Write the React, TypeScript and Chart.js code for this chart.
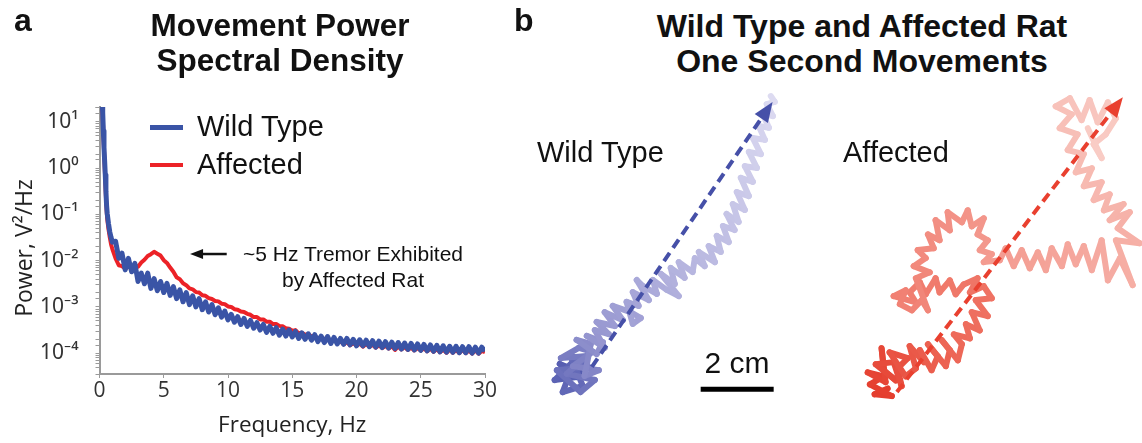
import React, { useEffect, useRef } from 'react';
import { Chart, registerables } from 'chart.js';

Chart.register(...registerables);

// ---------------- Panel a: movement power spectral density ----------------
// Frequency grid (Hz)
const psdFreqHz = [
  0.2, 0.25, 0.3, 0.35, 0.4, 0.45, 0.5, 0.55, 0.6, 0.7, 0.8, 0.9, 1.0,
  1.25, 1.5, 1.75, 2.0, 2.25, 2.5, 2.75, 3.0, 3.25, 3.5, 3.75, 4.0,
  4.25, 4.5, 4.75, 5.0, 5.25, 5.5, 5.75, 6.0, 6.25, 6.5, 6.75, 7.0,
  7.25, 7.5, 7.75, 8.0, 8.25, 8.5, 8.75, 9.0, 9.25, 9.5, 9.75, 10.0,
  10.25, 10.5, 10.75, 11.0, 11.25, 11.5, 11.75, 12.0, 12.25, 12.5, 12.75, 13.0,
  13.25, 13.5, 13.75, 14.0, 14.25, 14.5, 14.75, 15.0, 15.25, 15.5, 15.75, 16.0,
  16.25, 16.5, 16.75, 17.0, 17.25, 17.5, 17.75, 18.0, 18.25, 18.5, 18.75, 19.0,
  19.25, 19.5, 19.75, 20.0, 20.25, 20.5, 20.75, 21.0, 21.25, 21.5, 21.75, 22.0,
  22.25, 22.5, 22.75, 23.0, 23.25, 23.5, 23.75, 24.0, 24.25, 24.5, 24.75, 25.0,
  25.25, 25.5, 25.75, 26.0, 26.25, 26.5, 26.75, 27.0, 27.25, 27.5, 27.75, 28.0,
  28.25, 28.5, 28.75, 29.0, 29.25, 29.5, 29.75, 30.0,
];

// log10 of power (V^2/Hz)
const wildTypeLog10Power = [
  1.45, 1.2, 0.8, 0.45, 0.15, -0.15, -0.5, -0.8, -0.98, -1.2, -1.38, -1.5, -1.6,
  -1.58, -1.95, -1.84, -2.2, -1.95, -2.24, -2.06, -2.45, -2.27, -2.5, -2.27, -2.6,
  -2.39, -2.65, -2.45, -2.69, -2.49, -2.75, -2.56, -2.82, -2.63, -2.89, -2.69, -2.95,
  -2.76, -3.0, -2.82, -3.06, -2.89, -3.11, -2.95, -3.17, -3.02, -3.22, -3.09, -3.28,
  -3.16, -3.33, -3.21, -3.38, -3.25, -3.42, -3.29, -3.46, -3.34, -3.5, -3.38, -3.55,
  -3.42, -3.57, -3.45, -3.61, -3.48, -3.63, -3.5, -3.65, -3.53, -3.68, -3.56, -3.7,
  -3.58, -3.72, -3.6, -3.75, -3.63, -3.77, -3.64, -3.79, -3.66, -3.8, -3.68, -3.81,
  -3.68, -3.82, -3.7, -3.84, -3.71, -3.84, -3.72, -3.86, -3.73, -3.87, -3.74, -3.88,
  -3.75, -3.89, -3.76, -3.9, -3.77, -3.91, -3.78, -3.92, -3.79, -3.93, -3.8, -3.94,
  -3.81, -3.95, -3.82, -3.96, -3.83, -3.97, -3.84, -3.98, -3.85, -3.98, -3.85, -3.99,
  -3.86, -3.99, -3.86, -4.0, -3.87, -4.0, -3.87, -3.96,
];

const affectedLog10Power = [
  1.45, 1.15, 0.72, 0.38, 0.05, -0.28, -0.62, -0.9, -1.1, -1.32, -1.5, -1.65, -1.75,
  -1.95, -2.1, -2.12, -2.17, -2.13, -2.16, -2.1, -2.13, -2.04, -1.98, -1.9, -1.86,
  -1.81, -1.85, -1.89, -1.99, -2.05, -2.15, -2.24, -2.36, -2.4, -2.49, -2.53, -2.6,
  -2.62, -2.68, -2.69, -2.75, -2.76, -2.81, -2.83, -2.87, -2.88, -2.93, -2.94, -2.99,
  -3.0, -3.05, -3.06, -3.1, -3.11, -3.15, -3.17, -3.22, -3.22, -3.27, -3.27, -3.32,
  -3.32, -3.37, -3.37, -3.41, -3.42, -3.46, -3.47, -3.52, -3.5, -3.57, -3.56, -3.6,
  -3.59, -3.64, -3.63, -3.68, -3.65, -3.7, -3.69, -3.74, -3.71, -3.77, -3.74, -3.81,
  -3.76, -3.83, -3.78, -3.84, -3.79, -3.86, -3.8, -3.86, -3.82, -3.88, -3.83, -3.89,
  -3.84, -3.9, -3.85, -3.93, -3.86, -3.92, -3.87, -3.93, -3.88, -3.94, -3.89, -3.94,
  -3.9, -3.96, -3.9, -3.97, -3.91, -3.98, -3.92, -3.99, -3.92, -3.99, -3.93, -4.0,
  -3.93, -4.0, -3.94, -4.01, -3.94, -4.01, -3.95, -3.98,
];

const psdXTicks = [0, 5, 10, 15, 20, 25, 30];
const psdYRange = [3.55e-5, 20.9];
// annotation arrow (Hz, power)
const tremorArrow = { fromHz: 9.9, toHz: 7.05, power: 0.0139 };

// ---------------- Panel b: one-second trajectories (cm, from start point) ----------------
const wildTypePathX = [
  0.14, -0.41, 0.05, -0.55, 0.0, -0.33, 0.22, -0.14, 0.38, -0.49, 0.16, 0.55, -0.22, 0.33, -0.38, 0.11,
  0.49, -0.05, 0.66, 0.27, 0.44, 0.05, 0.6, 0.77, 0.33, 0.82, 0.55,
  0.93, 0.6, 1.1, 0.82, 1.32, 1.04, 1.53, 1.81, 1.59, 1.42, 1.75, 1.59, 2.03, 1.7, 1.86, 2.25, 2.14,
  2.52, 2.85, 2.36, 2.74, 2.63, 3.01, 2.85, 3.23, 3.29, 3.56, 3.4, 3.84, 3.67, 4.0, 3.89, 4.22, 4.06,
  4.38, 4.16, 4.49, 4.33, 4.66, 4.44, 4.77, 4.55, 4.88, 4.66, 4.99, 4.77, 5.1, 4.88, 5.21, 5.04,
  5.32, 5.15, 5.43, 5.26, 5.48, 5.37,
];
const wildTypePathY = [
  0.0, 0.22, -0.14, -0.22, 0.33, -0.55, -0.38, 0.49, 0.14, 0.05, -0.55, -0.22, -0.05, 0.44, 0.38, 0.66,
  0.55, 0.16, 0.05, -0.11, 0.77, 0.88, 0.49, 0.82, 0.99, 0.66, 1.15,
  1.04, 1.37, 1.26, 1.64, 1.42, 1.81, 1.64, 1.48, 1.32, 1.92, 1.81, 2.19, 1.97, 2.52, 2.36, 2.14, 2.52,
  2.25, 2.08, 2.69, 2.41, 2.85, 2.58, 3.01, 2.74, 3.12, 2.9, 3.29, 3.01, 3.45, 3.29, 3.73, 3.56, 4.0,
  3.89, 4.33, 4.11, 4.6, 4.44, 4.93, 4.82, 5.32, 5.21, 5.64, 5.59, 6.03, 5.97, 6.41, 6.36, 6.74,
  6.69, 7.07, 7.01, 7.34, 7.4, 7.56,
];

const affectedPathX = [
  0.22, -0.14, 0.33, -0.27, 0.11, -0.33, 0.16, 0.05, 0.11, 0.44, -0.11, 0.38, 0.6, 0.49, 0.77, 0.27,
  0.71, 0.99, 0.82, 1.21, 1.1, 1.42, 1.59, 1.32, 1.81, 1.92, 1.7, 2.14, 2.25,
  2.03, 2.47, 2.36, 2.74, 2.52, 2.96, 2.63, 3.07, 2.85, 2.47, 2.68, 2.3,
  2.08, 1.92, 1.64, 1.53, 1.26, 1.1, 0.82, 0.99, 0.38, 0.71, 0.55, 0.88, 1.15, 1.32,
  0.99, 1.37, 0.93, 1.26, 1.04, 1.48,
  1.32, 1.64, 1.53, 1.92, 1.86, 2.25, 2.41, 2.52, 2.85, 2.68, 2.96, 2.74,
  3.07, 2.85, 3.29, 3.45, 3.67,
  3.89, 4.11, 4.33, 4.55, 4.71, 4.99, 5.15, 5.37, 5.59,
  5.81, 6.08, 6.25, 6.58, 6.93, 6.47, 7.12, 6.52, 6.85, 6.3, 6.68, 6.14,
  6.3, 5.86, 6.08, 5.59, 5.81, 5.37, 5.59,
  5.15, 5.42, 4.93, 5.26, 4.82, 5.21, 5.53, 5.75, 5.97, 6.25, 6.47, 6.19, 5.86, 6.08, 5.7,
];
const affectedPathY = [
  0.05, -0.11, -0.16, 0.16, 0.38, 0.49, 0.22, 1.15, 0.55, 0.27, 0.71, 0.77, 0.11, 0.6, 0.88, 1.04,
  0.38, 0.6, 1.21, 0.77, 1.1, 0.55, 0.93, 1.26, 0.66, 1.1, 1.37, 0.82, 1.26,
  1.53, 1.42, 1.81, 1.64, 2.14, 2.03, 2.47, 2.52, 2.85, 2.68, 3.07, 2.9,
  2.63, 3.01, 2.68, 3.07, 2.63, 2.96, 2.68, 2.41, 2.58, 2.74, 2.36, 2.19, 2.47, 2.19,
  3.07, 3.23, 3.4, 3.62, 3.84, 3.89,
  4.27, 4.11, 4.66, 4.38, 4.88, 4.6, 4.93, 4.49, 4.71, 4.27, 4.11, 3.84,
  3.73, 3.51, 3.56, 3.89, 3.4,
  3.84, 3.34, 3.78, 3.29, 3.89, 3.4, 4.0, 3.45, 3.95,
  3.29, 4.11, 3.01, 3.62, 2.88, 4.11, 4.03, 4.44, 4.88, 4.66, 5.1, 4.93,
  5.37, 5.21, 5.7, 5.59, 6.08, 5.97, 6.47,
  6.58, 7.01, 7.18, 7.56, 7.78, 8.0, 7.4, 7.95, 7.34, 7.89, 7.45, 7.01, 6.74, 6.36, 7.18,
];

// straight-line (start -> end) displacement arrows, cm
const wildTypeArrow = { from: [0.47, 0.14], to: [5.42, 7.4] };
const affectedArrow = { from: [0.47, -0.05], to: [6.66, 8.03] };
// scale bar (cm)
const scaleBarLengthCm = 2;
const scaleBarStart = [3.45, -0.47];

// ---------------- styles ----------------
const BLUE = '#3a54a6';
const RED = '#ec2227';
const AXIS_GREY = '#9a9a9a';
const WT_STOPS: [number, number[]][] = [
  [0, [84, 92, 176]],
  [0.3, [150, 150, 208]],
  [1, [222, 220, 242]],
];
const AF_STOPS: [number, number[]][] = [
  [0, [228, 60, 44]],
  [0.25, [238, 108, 92]],
  [0.5, [242, 140, 128]],
  [1, [249, 205, 198]],
];
const CM_PX = 36.5;

function colorAt(stops: [number, number[]][], t: number) {
  for (let i = 1; i < stops.length; i++) {
    if (t <= stops[i][0]) {
      const [t0, c0] = stops[i - 1];
      const [t1, c1] = stops[i];
      const f = (t - t0) / (t1 - t0);
      const c = c0.map((v, k) => Math.round(v + (c1[k] - v) * f));
      return `rgb(${c[0]},${c[1]},${c[2]})`;
    }
  }
  const c = stops[stops.length - 1][1];
  return `rgb(${c[0]},${c[1]},${c[2]})`;
}

const SUP: Record<string, string> = {
  '-': '\u207B', '0': '\u2070', '1': '\u00B9', '2': '\u00B2', '3': '\u00B3',
  '4': '\u2074', '5': '\u2075', '6': '\u2076', '7': '\u2077', '8': '\u2078', '9': '\u2079',
};

const tremorArrowPlugin = {
  id: 'tremorArrow',
  afterDatasetsDraw(chart: any) {
    const { ctx, scales } = chart;
    const x0 = scales.x.getPixelForValue(tremorArrow.fromHz);
    const x1 = scales.x.getPixelForValue(tremorArrow.toHz);
    const y = scales.y.getPixelForValue(tremorArrow.power);
    ctx.save();
    ctx.strokeStyle = '#111';
    ctx.fillStyle = '#111';
    ctx.lineWidth = 2.5;
    ctx.beginPath();
    ctx.moveTo(x0, y);
    ctx.lineTo(x1 + 10, y);
    ctx.stroke();
    ctx.beginPath();
    ctx.moveTo(x1, y);
    ctx.lineTo(x1 + 13, y - 5);
    ctx.lineTo(x1 + 13, y + 5);
    ctx.closePath();
    ctx.fill();
    ctx.restore();
  },
};

const dashArrowPlugin = {
  id: 'dashArrow',
  afterDatasetsDraw(chart: any, _args: any, opts: any) {
    if (!opts || !opts.from) return;
    const { ctx, scales } = chart;
    const px = (p: number[]) => [scales.x.getPixelForValue(p[0]), scales.y.getPixelForValue(p[1])];
    const [ax, ay] = px(opts.from);
    const [bx, by] = px(opts.to);
    const len = Math.hypot(bx - ax, by - ay);
    const ux = (bx - ax) / len;
    const uy = (by - ay) / len;
    const head = 20;
    const half = 8;
    ctx.save();
    ctx.strokeStyle = opts.color;
    ctx.fillStyle = opts.color;
    ctx.lineWidth = 4;
    ctx.setLineDash([10, 6]);
    ctx.beginPath();
    ctx.moveTo(ax, ay);
    ctx.lineTo(bx - ux * (head - 3), by - uy * (head - 3));
    ctx.stroke();
    ctx.setLineDash([]);
    const cx = bx - ux * head;
    const cy = by - uy * head;
    ctx.beginPath();
    ctx.moveTo(bx, by);
    ctx.lineTo(cx - uy * half, cy + ux * half);
    ctx.lineTo(cx + uy * half, cy - ux * half);
    ctx.closePath();
    ctx.fill();
    ctx.restore();
  },
};

function makePsdChart(canvas: HTMLCanvasElement) {
  const mk = (logs: number[]) => psdFreqHz.map((f, i) => ({ x: f, y: Math.pow(10, logs[i]) }));
  const tickFont = { family: "'Open Sans', 'Noto Sans', sans-serif", size: 21 };
  return new Chart(canvas, {
    type: 'line',
    data: {
      datasets: [
        { label: 'Wild Type', data: mk(wildTypeLog10Power), borderColor: BLUE, borderWidth: 5, pointRadius: 0, tension: 0, borderJoinStyle: 'round' },
        { label: 'Affected', data: mk(affectedLog10Power), borderColor: RED, borderWidth: 4, pointRadius: 0, tension: 0, borderJoinStyle: 'round' },
      ] as any,
    },
    options: {
      responsive: false,
      maintainAspectRatio: false,
      animation: false,
      layout: { padding: { left: 0, top: 107, right: 35, bottom: 0 } },
      plugins: { legend: { display: false }, tooltip: { enabled: false } },
      scales: {
        x: {
          type: 'linear',
          min: psdXTicks[0],
          max: psdXTicks[psdXTicks.length - 1],
          afterFit: (s: any) => { s.height = 69; },
          afterBuildTicks: (s: any) => { s.ticks = psdXTicks.map((v) => ({ value: v })); },
          ticks: { font: tickFont, color: '#333', padding: 0, maxRotation: 0 },
          grid: { display: true, drawOnChartArea: false, tickLength: 4, color: AXIS_GREY },
          border: { color: AXIS_GREY, width: 2 },
          title: { display: true, text: 'Frequency, Hz', font: { family: "'Open Sans', sans-serif", size: 22.5 }, color: '#222', padding: 4 },
        },
        y: {
          type: 'logarithmic',
          min: psdYRange[0],
          max: psdYRange[1],
          afterFit: (s: any) => { s.width = 99.5; },
          ticks: {
            autoSkip: false,
            font: { family: "'Noto Sans', 'DejaVu Sans', sans-serif", size: 21 },
            color: '#333',
            padding: 17,
            callback: (v: any) => {
              const e = Math.log10(Number(v));
              const r = Math.round(e);
              if (Math.abs(e - r) > 1e-6) return '';
              return '10' + String(r).split('').map((c) => SUP[c]).join('');
            },
          },
          grid: { display: true, drawOnChartArea: false, tickLength: 4, color: AXIS_GREY },
          border: { color: AXIS_GREY, width: 2 },
          title: { display: false, text: 'Power, V\u00B2/Hz' },
        },
      },
    } as any,
    plugins: [tremorArrowPlugin],
  });
}

function makeTrajChart(
  canvas: HTMLCanvasElement,
  xs: number[],
  ys: number[],
  stops: [number, number[]][],
  arrow: { from: number[]; to: number[] },
  arrowColor: string,
  xRange: number[],
  yRange: number[],
  withScaleBar: boolean,
) {
  const n = xs.length;
  const datasets: any[] = [
    {
      data: xs.map((x, i) => ({ x, y: ys[i] })),
      borderWidth: 6,
      borderColor: colorAt(stops, 0),
      segment: { borderColor: (c: any) => colorAt(stops, c.p0DataIndex / (n - 1)) },
      borderJoinStyle: 'round',
      borderCapStyle: 'round',
      pointRadius: 0,
      tension: 0,
      clip: false,
    },
  ];
  if (withScaleBar) {
    datasets.push({
      data: [
        { x: scaleBarStart[0], y: scaleBarStart[1] },
        { x: scaleBarStart[0] + scaleBarLengthCm, y: scaleBarStart[1] },
      ],
      borderColor: '#000',
      borderWidth: 5,
      pointRadius: 0,
      clip: false,
    });
  }
  return new Chart(canvas, {
    type: 'line',
    data: { datasets },
    options: {
      responsive: false,
      maintainAspectRatio: false,
      animation: false,
      layout: { padding: 0 },
      plugins: {
        legend: { display: false },
        tooltip: { enabled: false },
        dashArrow: { from: arrow.from, to: arrow.to, color: arrowColor },
      },
      scales: {
        x: { type: 'linear', display: false, min: xRange[0], max: xRange[1] },
        y: { type: 'linear', display: false, min: yRange[0], max: yRange[1] },
      },
    } as any,
    plugins: [dashArrowPlugin],
  });
}

function Txt(props: { x: number; baseline: number; size: number; bold?: boolean; center?: boolean; children: React.ReactNode }) {
  const { x, baseline, size, bold, center, children } = props;
  return (
    <div
      style={{
        position: 'absolute',
        left: x,
        top: baseline - 0.8465 * size,
        fontSize: size,
        lineHeight: `${size}px`,
        fontWeight: bold ? 700 : 400,
        whiteSpace: 'nowrap',
        transform: center ? 'translateX(-50%)' : undefined,
        textAlign: center ? 'center' : 'left',
        color: '#111',
        fontFamily: "'Liberation Sans', Arial, sans-serif",
      }}
    >
      {children}
    </div>
  );
}

export default function App() {
  const psdRef = useRef<HTMLCanvasElement>(null);
  const wtRef = useRef<HTMLCanvasElement>(null);
  const afRef = useRef<HTMLCanvasElement>(null);

  useEffect(() => {
    const charts: Chart[] = [];
    if (psdRef.current) charts.push(makePsdChart(psdRef.current));
    if (wtRef.current)
      charts.push(makeTrajChart(wtRef.current, wildTypePathX, wildTypePathY, WT_STOPS, wildTypeArrow, '#4650a8', [-1.5, -1.5 + 310 / CM_PX], [-2, 8], true));
    if (afRef.current)
      charts.push(makeTrajChart(afRef.current, affectedPathX, affectedPathY, AF_STOPS, affectedArrow, '#e9402f', [-1.5, -1.5 + 317 / CM_PX], [-1.5, 8.5], false));
    return () => charts.forEach((c) => c.destroy());
  }, []);

  return (
    <div style={{ position: 'fixed', left: 0, top: 0, width: 1142, height: 443, background: '#fff', overflow: 'hidden' }}>
      <canvas ref={psdRef} width={520} height={443} style={{ position: 'absolute', left: 0, top: 0 }} />
      <canvas ref={wtRef} width={310} height={365} style={{ position: 'absolute', left: 520, top: 80 }} />
      <canvas ref={afRef} width={317} height={365} style={{ position: 'absolute', left: 825, top: 80 }} />

      <div
        style={{
          position: 'absolute',
          left: 23,
          top: 248,
          transform: 'translate(-50%, -50%) rotate(-90deg)',
          fontFamily: "'Open Sans', sans-serif",
          fontSize: 23,
          lineHeight: '28px',
          color: '#222',
          whiteSpace: 'nowrap',
        }}
      >
        Power, V²/Hz
      </div>

      <Txt x={14} baseline={31} size={32} bold>a</Txt>
      <Txt x={514} baseline={31} size={32} bold>b</Txt>
      <Txt x={280} baseline={37} size={31.5} bold center>Movement Power</Txt>
      <Txt x={280} baseline={72} size={31.5} bold center>Spectral Density</Txt>
      <Txt x={862} baseline={37} size={32} bold center>Wild Type and Affected Rat</Txt>
      <Txt x={862} baseline={72} size={32} bold center>One Second Movements</Txt>

      <div style={{ position: 'absolute', left: 150, top: 125, width: 33, height: 5, background: BLUE }} />
      <div style={{ position: 'absolute', left: 150, top: 163, width: 33, height: 4, background: RED }} />
      <Txt x={197} baseline={137} size={29}>Wild Type</Txt>
      <Txt x={197} baseline={175} size={29}>Affected</Txt>

      <Txt x={353} baseline={261} size={21} center>~5 Hz Tremor Exhibited</Txt>
      <Txt x={353} baseline={287} size={21} center>by Affected Rat</Txt>

      <Txt x={537} baseline={163} size={29}>Wild Type</Txt>
      <Txt x={843} baseline={163} size={29}>Affected</Txt>
      <Txt x={737} baseline={373} size={30} center>2 cm</Txt>
    </div>
  );
}
